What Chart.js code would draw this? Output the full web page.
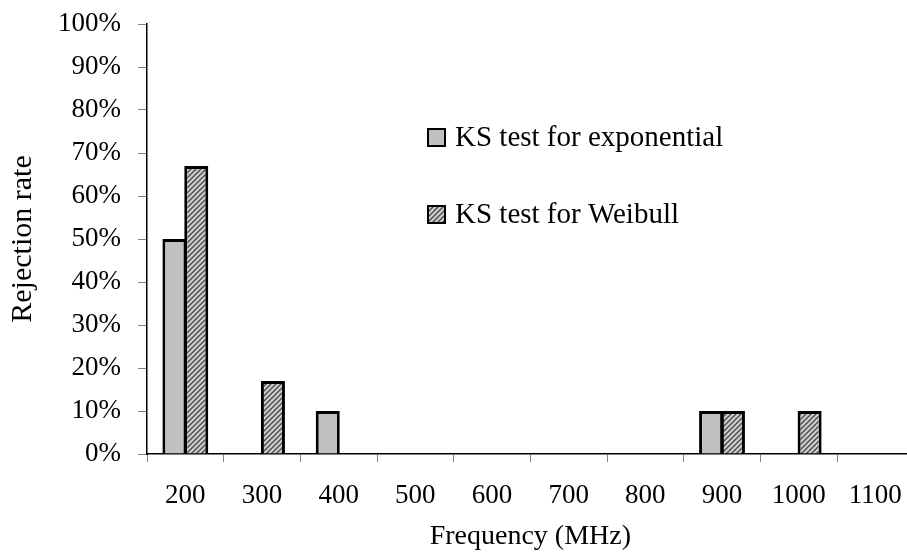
<!DOCTYPE html>
<html>
<head>
<meta charset="utf-8">
<script src="https://cdn.jsdelivr.net/npm/chart.js@4/dist/chart.umd.min.js"></script>
<style>
  html, body { margin: 0; padding: 0; background: #fff; overflow: hidden; }
  #wrap { position: absolute; left: 0; top: 0; width: 920px; height: 553px; }
</style>
</head>
<body>
<div id="wrap"><canvas id="chart" width="920" height="553"></canvas></div>
<script>
// data
const frequencies = ['200', '300', '400', '500', '600', '700', '800', '900', '1000', '1100'];
const ksExponential = [50, 0, 10, 0, 0, 0, 0, 10, 0, 0];
const ksWeibull = [67, 17, 0, 0, 0, 0, 0, 10, 10, 0];
const seriesNames = ['KS test for exponential', 'KS test for Weibull'];

const SERIF = '"Liberation Serif", "Times New Roman", serif';

// diagonal hatch like the excel fill
function hatch() {
  const c = document.createElement('canvas');
  c.width = 5; c.height = 5;
  const g = c.getContext('2d');
  g.fillStyle = '#cfcfcf';
  g.fillRect(0, 0, 5, 5);
  g.strokeStyle = '#4a4a4a';
  g.lineWidth = 1.4;
  g.beginPath();
  g.moveTo(-1, 6); g.lineTo(6, -1);
  g.moveTo(-1, 1); g.lineTo(1, -1);
  g.moveTo(4, 6); g.lineTo(6, 4);
  g.stroke();
  return g.createPattern(c, 'repeat');
}
const hatchFill = hatch();

// legend sits inside the plot, so draw it ourselves
const floatLegend = {
  id: 'floatLegend',
  afterDraw(chart) {
    const ctx = chart.ctx;
    const rows = [137, 214];
    ctx.save();
    chart.data.datasets.forEach((ds, i) => {
      const y = rows[i];
      ctx.fillStyle = ds.backgroundColor;
      ctx.fillRect(428, y - 8, 17, 17);
      ctx.lineWidth = 2;
      ctx.strokeStyle = '#000';
      ctx.strokeRect(428, y - 8, 17, 17);
      ctx.fillStyle = '#000';
      ctx.font = '29px ' + SERIF;
      ctx.textBaseline = 'middle';
      ctx.fillText(ds.label, 455, y + 1);
    });
    ctx.restore();
  }
};

new Chart(document.getElementById('chart'), {
  type: 'bar',
  data: {
    labels: frequencies,
    datasets: [
      { label: seriesNames[0], data: ksExponential, backgroundColor: '#c0c0c0', borderColor: '#000', borderWidth: 3 },
      { label: seriesNames[1], data: ksWeibull, backgroundColor: hatchFill, borderColor: '#000', borderWidth: 3 }
    ]
  },
  options: {
    responsive: false,
    animation: false,
    devicePixelRatio: 1,
    categoryPercentage: 0.57,
    barPercentage: 1.1,
    layout: { padding: { top: 24, right: 3, left: 0, bottom: 0 } },
    plugins: { legend: { display: false }, tooltip: { enabled: false } },
    scales: {
      x: {
        afterFit(s) { s.height = 99; },
        grid: { offset: true, drawOnChartArea: false, drawTicks: true, tickLength: 8, color: '#808080' },
        border: { color: '#000', width: 1.5 },
        ticks: { color: '#000', font: { family: SERIF, size: 27 }, padding: 18, maxRotation: 0 },
        title: { display: true, text: 'Frequency (MHz)', color: '#000', font: { family: SERIF, size: 28 }, padding: 0 }
      },
      y: {
        min: 0, max: 100,
        afterFit(s) { s.width = 147; s.paddingTop = 0; s.paddingBottom = 0; },
        grid: { drawOnChartArea: false, drawTicks: true, tickLength: 9, color: '#808080' },
        border: { color: '#000', width: 1.5 },
        ticks: { stepSize: 10, color: '#000', font: { family: SERIF, size: 27 }, padding: 17, callback: v => v + '%' },
        title: { display: true, text: 'Rejection rate', color: '#000', font: { family: SERIF, size: 30 }, padding: { top: 5, bottom: 0 } }
      }
    }
  },
  plugins: [floatLegend]
});
</script>
</body>
</html>
